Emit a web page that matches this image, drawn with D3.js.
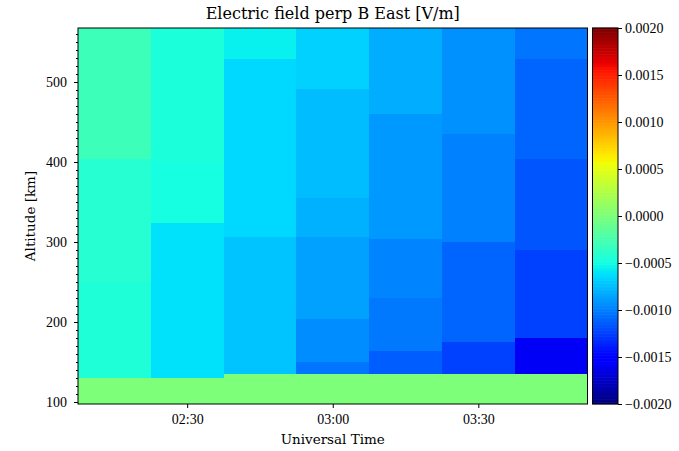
<!DOCTYPE html>
<html>
<head>
<meta charset="utf-8">
<script src="https://cdn.jsdelivr.net/npm/d3@7"></script>
<style>
  html, body { margin: 0; padding: 0; background: #fff; }
  svg { display: block; }
  text { fill: #000; }
</style>
</head>
<body>
<svg id="chart" width="679" height="451"></svg>
<script>
// ---- data ----
const title = "Electric field perp B East [V/m]";
const xLabel = "Universal Time";
const yLabel = "Altitude [km]";
// column centre times (each column spans 15 minutes)
const times = ["02:15", "02:30", "02:45", "03:00", "03:15", "03:30", "03:45"];
const colMinutes = 15;
// altitude extent of the mesh (km)
const altBottom = 97.5;
const altTop = 567.5;
// top of the zero-valued band at the bottom of each column (km)
const zeroTop = [130, 130, 136, 136, 136, 136, 136];
// altitude breaks inside each column (km), bottom to top
const altBreaks = [
  [250, 404],
  [324, 400],
  [307, 529],
  [150, 204, 307, 355, 492],
  [164, 230, 304, 460],
  [176, 300, 436],
  [180, 291, 404, 529]
];
// field values (V/m) for each segment, bottom to top
const fieldValues = [
  [-0.00045, -0.00042, -0.00031],
  [-0.00062, -0.00050, -0.00046],
  [-0.00072, -0.00065, -0.00056],
  [-0.00104, -0.00094, -0.00087, -0.00080, -0.00076, -0.00068],
  [-0.00113, -0.00103, -0.00097, -0.00090, -0.00082],
  [-0.00124, -0.00110, -0.00100, -0.00093],
  [-0.00158, -0.00125, -0.00117, -0.00110, -0.00104]
];
const zeroValue = 0;
const colorMin = -0.002, colorMax = 0.002;
const xTickLabels = ["02:30", "03:00", "03:30"];
const yTicks = [100, 200, 300, 400, 500];
const cbTicks = [-0.002, -0.0015, -0.001, -0.0005, 0, 0.0005, 0.001, 0.0015, 0.002];

// ---- layout ----
const plot = { left: 78, top: 28, right: 587.5, bottom: 404 };
const cb = { left: 592.5, right: 618, top: 28, bottom: 404 };
const numFont = '"Liberation Serif", serif';
const wordFont = '"DejaVu Serif", serif';

const svg = d3.select("#chart");

const parseT = d3.utcParse("%H:%M");
const half = colMinutes / 2 * 60000;
const x = d3.scaleUtc()
  .domain([new Date(+parseT(times[0]) - half), new Date(+parseT(times[times.length - 1]) + half)])
  .range([plot.left, plot.right]);
const y = d3.scaleLinear().domain([altBottom, altTop]).range([plot.bottom, plot.top]);

// jet colormap (matplotlib segment data)
const jr = d3.scaleLinear().domain([0, 0.35, 0.66, 0.89, 1]).range([0, 0, 1, 1, 0.5]).clamp(true);
const jg = d3.scaleLinear().domain([0, 0.125, 0.375, 0.64, 0.91, 1]).range([0, 0, 1, 1, 0, 0]).clamp(true);
const jb = d3.scaleLinear().domain([0, 0.11, 0.34, 0.65, 1]).range([0.5, 1, 1, 0, 0]).clamp(true);
function jet(t) {
  t = Math.max(0, Math.min(1, t));
  t = Math.min(255, Math.floor(t * 256)) / 255; // 256-level quantization
  return d3.rgb(jr(t) * 255, jg(t) * 255, jb(t) * 255).formatHex();
}
const norm = d3.scaleLinear().domain([colorMin, colorMax]).range([0, 1]);
const color = v => jet(norm(v));

// ---- cells ----
const cells = [];
times.forEach((tm, i) => {
  const tc = +parseT(tm);
  const x0 = new Date(tc - half), x1 = new Date(tc + half);
  cells.push({ x0, x1, a0: altBottom, a1: zeroTop[i], v: zeroValue });
  const edges = [zeroTop[i], ...altBreaks[i], altTop];
  fieldValues[i].forEach((v, j) => {
    cells.push({ x0, x1, a0: edges[j], a1: edges[j + 1], v });
  });
});

svg.append("g").selectAll("rect").data(cells).join("rect")
  .attr("x", d => x(d.x0))
  .attr("y", d => y(d.a1))
  .attr("width", d => x(d.x1) - x(d.x0) + 0.3)
  .attr("height", d => y(d.a0) - y(d.a1) + 0.3)
  .attr("fill", d => color(d.v))
  .attr("shape-rendering", "crispEdges");

// frame
svg.append("rect")
  .attr("x", plot.left).attr("y", plot.top)
  .attr("width", plot.right - plot.left).attr("height", plot.bottom - plot.top)
  .attr("fill", "none").attr("stroke", "#000").attr("stroke-width", 1);

// ---- axes ----
const xAxis = d3.axisBottom(x)
  .tickValues(xTickLabels.map(parseT))
  .tickFormat(d3.utcFormat("%H:%M"))
  .tickSize(4).tickPadding(6);
const gx = svg.append("g").attr("transform", `translate(0,${plot.bottom})`).call(xAxis);
gx.select(".domain").remove();
gx.selectAll("text").style("font-size", "14px").style("font-family", numFont);

const yMinor = d3.range(100, 568, 10);
const gyMinor = svg.append("g").attr("transform", `translate(${plot.left},0)`)
  .call(d3.axisLeft(y).tickValues(yMinor).tickSize(2).tickFormat(""));
gyMinor.select(".domain").remove();
const gy = svg.append("g").attr("transform", `translate(${plot.left},0)`)
  .call(d3.axisLeft(y).tickValues(yTicks).tickSize(4).tickPadding(7));
gy.select(".domain").remove();
gy.selectAll("text").style("font-size", "14px").style("font-family", numFont);

// axis labels and title
svg.append("text").attr("x", (plot.left + plot.right) / 2).attr("y", 444)
  .attr("text-anchor", "middle").style("font-family", wordFont).style("font-size", "13.5px").text(xLabel);
svg.append("text")
  .attr("transform", `translate(35,${(plot.top + plot.bottom) / 2}) rotate(-90)`)
  .attr("text-anchor", "middle").style("font-family", wordFont).style("font-size", "13.5px").text(yLabel);
svg.append("text").attr("x", (plot.left + plot.right) / 2).attr("y", 19)
  .attr("text-anchor", "middle").style("font-family", wordFont).style("font-size", "16px").text(title);

// ---- colorbar ----
const cy = d3.scaleLinear().domain([colorMin, colorMax]).range([cb.bottom, cb.top]);
const nSteps = 256;
const steps = d3.range(nSteps).map(i => colorMin + (colorMax - colorMin) * (i + 0.5) / nSteps);
const stepH = (cb.bottom - cb.top) / nSteps;
svg.append("g").selectAll("rect").data(steps).join("rect")
  .attr("x", cb.left).attr("width", cb.right - cb.left)
  .attr("y", d => cy(d) - stepH / 2 - 0.3).attr("height", stepH + 0.6)
  .attr("fill", d => color(d));
svg.append("rect").attr("x", cb.left).attr("y", cb.top)
  .attr("width", cb.right - cb.left).attr("height", cb.bottom - cb.top)
  .attr("fill", "none").attr("stroke", "#000").attr("stroke-width", 1);
const fmt = d => (d < 0 ? "\u2212" : "") + Math.abs(d).toFixed(4);
const gcb = svg.append("g").attr("transform", `translate(${cb.right},0)`)
  .call(d3.axisRight(cy).tickValues(cbTicks).tickFormat(fmt).tickSize(4).tickPadding(3));
gcb.select(".domain").remove();
gcb.selectAll("text").style("font-size", "14px").style("font-family", numFont);
</script>
</body>
</html>
